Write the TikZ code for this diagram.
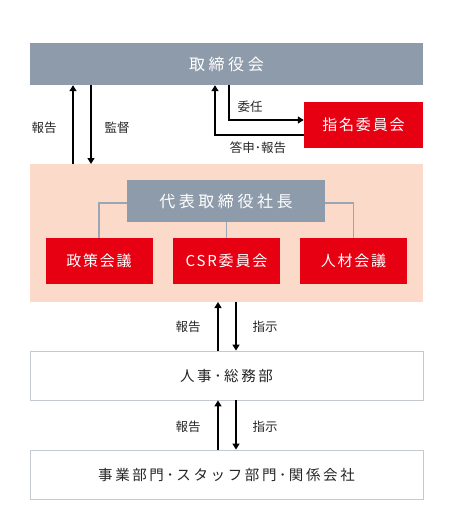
\documentclass[tikz,border=0pt]{standalone}
\usepackage{fontspec}
\setmainfont{Noto Sans CJK JP}
\usetikzlibrary{arrows.meta}
\definecolor{boardgray}{HTML}{8E9BAA}
\definecolor{jred}{HTML}{E60012}
\definecolor{pinkbg}{HTML}{FBDACA}
\definecolor{linegray}{HTML}{9AA6B3}
\definecolor{boxborder}{HTML}{C5CAD0}
\begin{document}
\begin{tikzpicture}[x=1pt,y=-1pt,
  graybox/.style={fill=boardgray,draw=none,inner sep=0pt,text=white,
    font=\fontsize{16}{18}\selectfont\addfontfeature{LetterSpace=22}},
  redbox/.style={fill=jred,draw=none,inner sep=0pt,text=white,
    font=\fontsize{15}{17}\selectfont\addfontfeature{LetterSpace=12}},
  whitebox/.style={fill=white,draw=boxborder,line width=0.8pt,inner sep=0pt,text=black!85,
    font=\fontsize{14.5}{17}\selectfont\addfontfeature{LetterSpace=18}},
  lbl/.style={inner sep=0pt,text=black!85,font=\fontsize{12.5}{14}\selectfont},
  arr/.style={line width=1.4pt,-{Triangle[width=7pt,length=6pt]}},
  conn/.style={draw=linegray,line width=1.2pt}
]
\useasboundingbox (0,0) rectangle (450,519);
% pink background region
\fill[pinkbg] (30,164) rectangle (423,302);
% board
\node[graybox,minimum width=393pt,minimum height=42pt] (board) at (226.5,64) {取締役会};
% nomination committee
\node[redbox,minimum width=119pt,minimum height=46pt] (nom) at (363.5,125) {指名委員会};
% president
\node[graybox,minimum width=198pt,minimum height=42pt] (pres) at (226,201) {代表取締役社長};
% committees
\node[redbox,minimum width=107pt,minimum height=46pt] (policy) at (99,261) {政策会議};
\node[redbox,minimum width=107pt,minimum height=46pt] (csr) at (226.5,261) {CSR委員会};
\node[redbox,minimum width=107pt,minimum height=46pt] (hr) at (353.5,261) {人材会議};
% departments
\node[whitebox,minimum width=393pt,minimum height=49pt] (hrga) at (226.5,375.5) {人事･総務部};
\node[whitebox,minimum width=393pt,minimum height=49pt] (biz) at (226.5,474.5) {事業部門･スタッフ部門･関係会社};
% connectors from president
\draw[conn] (pres.west |- 0,203) -| (policy.north);
\draw[conn] (pres.south -| csr.north) -- (csr.north);
\draw[conn] (pres.east |- 0,203) -| (hr.north);
% board <-> pink
\draw[arr] (73,164) -- (board.south -| 73,0);
\draw[arr] (board.south -| 91,0) -- (91,164);
\node[lbl] (l1) at (44,128) {報告};
\node[lbl] (l2) at (117,128) {監督};
% nomination arrows
\coordinate (c1) at (229,120);
\draw[arr] (board.south -| c1) |- (nom.west |- c1);
\coordinate (c2) at (215,135);
\draw[arr] (nom.west |- c2) -| (board.south -| c2);
\node[lbl] (l3) at (250,107) {委任};
\node[lbl] (l4) at (258,148) {答申･報告};
% pink <-> hrga
\draw[arr] (hrga.north -| 218,0) -- (218,302);
\draw[arr] (236,302) -- (hrga.north -| 236,0);
\node[lbl] (l5) at (188,327) {報告};
\node[lbl] (l6) at (265,327) {指示};
% hrga <-> biz
\draw[arr] (biz.north -| 218,0) -- (hrga.south -| 218,0);
\draw[arr] (hrga.south -| 236,0) -- (biz.north -| 236,0);
\node[lbl] (l7) at (188,427) {報告};
\node[lbl] (l8) at (265,427) {指示};
\end{tikzpicture}
\end{document}
